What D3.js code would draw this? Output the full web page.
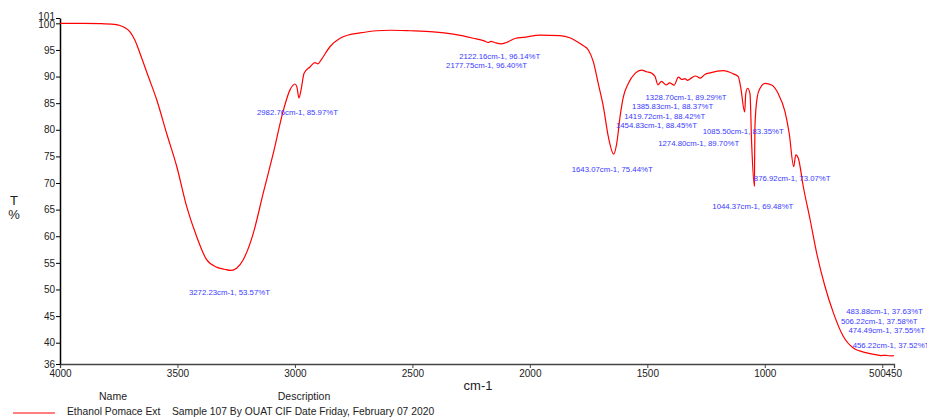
<!DOCTYPE html>
<html>
<head>
<meta charset="utf-8">
<script src="https://cdn.jsdelivr.net/npm/d3@7"></script>
<style>
  body { margin: 0; background: #fff; }
  text { font-family: "Liberation Sans", Arial, sans-serif; }
</style>
</head>
<body>
<div id="spectrum"></div>
<script>
// spectrum values
const wavenumbers = [4000, 3900, 3830, 3770, 3745, 3725, 3702, 3681, 3659, 3624, 3588, 3546, 3503, 3461, 3418, 3376, 3333, 3300, 3272.23, 3248, 3220, 3177, 3135, 3092, 3049, 3021, 3000, 2992, 2982.76, 2974, 2961, 2936, 2915, 2902, 2889, 2851, 2808, 2773, 2723, 2652, 2595, 2510, 2411, 2326, 2241, 2195, 2177.75, 2165, 2150, 2122.16, 2100, 2060, 2028, 1957, 1872, 1830, 1800, 1775, 1751, 1730, 1709, 1687, 1666, 1643.07, 1630, 1616, 1602, 1581, 1552, 1524, 1503, 1481, 1467, 1454.83, 1440, 1419.72, 1405, 1385.83, 1368, 1353, 1340, 1328.70, 1310, 1295, 1274.80, 1255, 1233, 1176, 1134, 1113, 1103, 1085.50, 1081, 1073, 1063, 1056, 1044.37, 1042, 1032, 1020, 999, 971, 943, 914, 896, 876.92, 868, 857, 836, 807, 779, 744, 708, 666, 623, 566, 523, 506.22, 483.88, 474.49, 456.22, 450];
const transmittance = [100.0, 100.0, 99.95, 99.8, 99.6, 99.2, 98.4, 96.8, 94.3, 90.0, 85.6, 79.3, 73.1, 65.6, 59.9, 55.6, 54.2, 53.8, 53.57, 54.0, 55.6, 60.6, 68.1, 75.6, 83.7, 87.5, 88.6, 88.1, 85.97, 87.5, 90.6, 91.8, 92.6, 92.4, 93.1, 95.6, 97.2, 97.8, 98.2, 98.6, 98.7, 98.6, 98.4, 97.97, 97.2, 96.7, 96.4, 96.6, 96.4, 96.14, 96.4, 97.2, 97.35, 97.8, 97.7, 97.3, 96.6, 95.9, 95.0, 92.8, 88.7, 84.3, 78.7, 75.44, 77.5, 82.5, 86.2, 88.7, 90.6, 91.2, 90.9, 90.6, 90.0, 88.45, 89.1, 88.42, 88.8, 88.37, 89.9, 89.45, 89.6, 89.29, 89.8, 90.1, 89.70, 90.4, 90.7, 91.1, 90.5, 90.0, 88.1, 83.35, 86.8, 87.8, 86.8, 77.5, 69.48, 80.6, 86.2, 87.8, 88.7, 88.4, 86.8, 83.4, 79.3, 73.07, 75.3, 74.6, 69.3, 63.1, 56.8, 50.6, 45.6, 41.2, 39.0, 38.1, 37.7, 37.58, 37.63, 37.55, 37.52, 37.6];

// peak picks
const peakWn = [3272.23, 2982.76, 2177.75, 2122.16, 1643.07, 1454.83, 1419.72, 1385.83, 1328.70, 1085.50, 1274.80, 876.92, 1044.37, 483.88, 506.22, 474.49, 456.22];
const peakT  = [53.57, 85.97, 96.40, 96.14, 75.44, 88.45, 88.42, 88.37, 89.29, 83.35, 89.70, 73.07, 69.48, 37.63, 37.58, 37.55, 37.52];

const xTicks = [4000, 3500, 3000, 2500, 2000, 1500, 1000, 500, 450];
const yTicks = [36, 40, 45, 50, 55, 60, 65, 70, 75, 80, 85, 90, 95, 100, 101];

const legendName = "Ethanol Pomace Ext";
const legendDesc = "Sample 107 By OUAT CIF Date Friday, February 07 2020";

// label placement (pixels below the peak point, as in the instrument printout)
const labelDy = [22, 15, 23, 13, 16, 41, 31.5, 22, 18, 20, 66, 12, 21, -43, -34, -25, -10];

var width = 927, height = 417;
var margin = {top: 18, right: 33, bottom: 53, left: 60};

var svg = d3.select("#spectrum")
    .append("svg")
    .attr("width", width)
    .attr("height", height);

var x = d3.scaleLinear()
    .domain([4000, 450])
    .range([margin.left, width - margin.right]);

var y = d3.scaleLinear()
    .domain([36, 101])
    .range([height - margin.bottom, margin.top]);

// x axis
var xAxis = svg.append("g")
    .attr("transform", "translate(0," + y(36) + ")")
    .call(d3.axisBottom(x).tickValues(xTicks).tickSize(4).tickPadding(2).tickFormat(d3.format("d")));
xAxis.select(".domain").attr("stroke", "#444").attr("stroke-width", 1.3);
xAxis.selectAll(".tick line").attr("stroke", "#444");
xAxis.selectAll("text").attr("font-size", 10).attr("fill", "#222")
    .attr("font-family", "Liberation Sans, Arial, sans-serif");
// 500 and 450 sit side by side, as in the original
xAxis.selectAll(".tick").filter(d => d === 500).select("text").attr("text-anchor", "end").attr("dx", 3);
xAxis.selectAll(".tick").filter(d => d === 450).select("text").attr("text-anchor", "start").attr("dx", -9);

// y axis
var yAxis = svg.append("g")
    .attr("transform", "translate(" + x(4000) + ",0)")
    .call(d3.axisLeft(y).tickValues(yTicks).tickSize(4).tickPadding(1).tickSizeOuter(0));
yAxis.select(".domain").attr("stroke", "#000").attr("stroke-width", 1.5);
yAxis.selectAll("text").attr("font-size", 10).attr("fill", "#222")
    .attr("font-family", "Liberation Sans, Arial, sans-serif");
yAxis.selectAll(".tick").filter(d => d === 101).select("text").attr("dy", "0.15em");
yAxis.selectAll(".tick").filter(d => d === 100).select("text").attr("dy", "0.4em");

// axis titles
svg.append("text")
    .attr("x", (x(4000) + x(450)) / 2 + 1)
    .attr("y", 390)
    .attr("text-anchor", "middle")
    .attr("font-size", 13)
    .attr("fill", "#222")
    .text("cm-1");
svg.append("text")
    .attr("x", 14)
    .attr("y", 205)
    .attr("text-anchor", "middle")
    .attr("font-size", 13)
    .attr("fill", "#222")
    .text("T");
svg.append("text")
    .attr("x", 14)
    .attr("y", 219)
    .attr("text-anchor", "middle")
    .attr("font-size", 13)
    .attr("fill", "#222")
    .text("%");

// spectrum
var points = wavenumbers.map((w, i) => [w, transmittance[i]]);
var line = d3.line()
    .x(d => x(d[0]))
    .y(d => y(d[1]))
    .curve(d3.curveMonotoneX);

svg.append("path")
    .datum(points)
    .attr("fill", "none")
    .attr("stroke", "#ff0000")
    .attr("stroke-width", 1.2)
    .attr("d", line);

// peak labels
svg.append("g")
    .selectAll("text")
    .data(peakWn)
    .enter()
    .append("text")
    .attr("x", (d, i) => x(d) - 1.5)
    .attr("y", (d, i) => y(peakT[i]) + labelDy[i])
    .attr("dominant-baseline", "middle")
    .attr("text-anchor", "middle")
    .attr("font-size", 7.8)
    .attr("fill", "#3a3aff")
    .text((d, i) => d.toFixed(2) + "cm-1, " + peakT[i].toFixed(2) + "%T");

// legend
svg.append("text").attr("x", 113).attr("y", 400).attr("text-anchor", "middle")
    .attr("font-size", 10.5).attr("fill", "#222").text("Name");
svg.append("text").attr("x", 304).attr("y", 400).attr("text-anchor", "middle")
    .attr("font-size", 10.5).attr("fill", "#222").text("Description");
svg.append("line")
    .attr("x1", 13).attr("x2", 55).attr("y1", 413).attr("y2", 413)
    .attr("stroke", "#ff0000").attr("stroke-width", 1);
svg.append("text").attr("x", 67).attr("y", 415)
    .attr("font-size", 10.3).attr("fill", "#222").text(legendName);
svg.append("text").attr("x", 172).attr("y", 415)
    .attr("font-size", 10.3).attr("fill", "#222").text(legendDesc);
</script>
</body>
</html>
